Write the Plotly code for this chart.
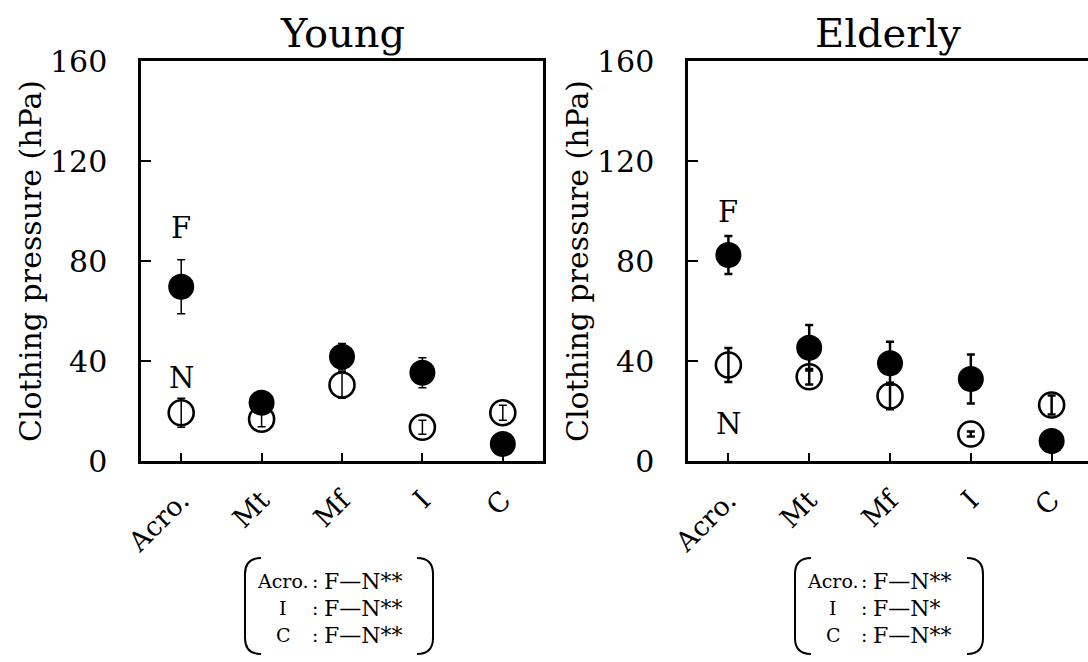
import plotly.graph_objects as go

categories = ["Acro.", "Mt", "Mf", "I", "C"]

# Young
young_F = [69.7, 23.3, 41.7, 35.3, 6.8]
young_F_err = [10.8, 2.0, 5.3, 6.0, 1.0]
young_N = [19.3, 16.7, 30.4, 13.5, 19.3]
young_N_err = [5.8, 3.0, 5.3, 2.8, 3.0]

# Elderly
elderly_F = [82.4, 45.3, 39.1, 32.8, 8.0]
elderly_F_err = [7.6, 9.1, 8.6, 9.8, 1.0]
elderly_N = [38.4, 33.7, 26.0, 10.8, 22.4]
elderly_N_err = [6.8, 3.1, 5.3, 1.0, 3.8]

panel_titles = ["Young", "Elderly"]
y_title = "Clothing pressure (hPa)"
y_ticks = [0, 40, 80, 120, 160]

sig_rows = ["Acro.", "I", "C"]
sig_young = ["F\u2014N**", "F\u2014N**", "F\u2014N**"]
sig_elderly = ["F\u2014N**", "F\u2014N*", "F\u2014N**"]

FONT = "DejaVu Serif"
W, H = 1088, 662
ML, MR, MT, MB = 141, 0, 61, 201
PW = W - ML - MR
PH = H - MT - MB


def px(x):
    return (x - ML) / PW


def py(y):
    return (H - MB - y) / PH


fig = go.Figure()

panels = [
    (young_F, young_F_err, young_N, young_N_err, "x", "y", 1.5, 4),
    (elderly_F, elderly_F_err, elderly_N, elderly_N_err, "x2", "y2", 2.5, 4),
]
for F, Fe, N, Ne, xa, ya, ebw, ebcap in panels:
    fig.add_trace(go.Scatter(
        x=categories, y=N, mode="markers", xaxis=xa, yaxis=ya,
        marker=dict(symbol="circle-open", size=25, color="black", line=dict(width=2.6, color="black")),
        error_y=dict(type="data", array=Ne, visible=True, color="black", thickness=ebw, width=ebcap),
        showlegend=False, cliponaxis=False))
    fig.add_trace(go.Scatter(
        x=categories, y=F, mode="markers", xaxis=xa, yaxis=ya,
        marker=dict(symbol="circle", size=26, color="black", line=dict(width=0)),
        error_y=dict(type="data", array=Fe, visible=True, color="black", thickness=ebw, width=ebcap),
        showlegend=False, cliponaxis=False))

axis_common = dict(
    showline=True, linecolor="black", linewidth=2.5, showgrid=False, zeroline=False,
    ticks="inside", tickcolor="black", tickwidth=2,
)
xt = dict(ticklen=8, tickangle=-45, tickfont=dict(size=27, family=FONT), ticklabelstandoff=10)
yt = dict(tickvals=y_ticks, ticklen=10, tickfont=dict(size=30, family=FONT), ticklabelstandoff=25,
          title=dict(text=y_title, font=dict(size=30, family=FONT), standoff=0))
fig.update_layout(
    width=W, height=H,
    margin=dict(l=ML, r=MR, t=MT, b=MB),
    paper_bgcolor="white", plot_bgcolor="white",
    font=dict(family=FONT, color="black"),
    xaxis=dict(axis_common, **xt, domain=[0, px(543)], range=[-0.5, 4.5], mirror=True, anchor="y"),
    yaxis=dict(axis_common, **yt, domain=[0, 1], range=[0, 160], mirror=True, anchor="x"),
    xaxis2=dict(axis_common, **xt, domain=[px(688), 1], range=[-0.5, 4.45], mirror=True, anchor="y2"),
    yaxis2=dict(axis_common, **yt, domain=[0, 1], range=[0, 160], mirror=False, anchor="x2"),
)

# Panel titles
for title, cx in zip(panel_titles, [px(342), px(888)]):
    fig.add_annotation(text=title, x=cx, y=py(33), xref="paper", yref="paper",
                       showarrow=False, font=dict(size=40, family=FONT),
                       xanchor="center", yanchor="middle")

# F / N labels
lab_font = dict(size=29, family=FONT)
fig.add_annotation(text="F", x="Acro.", y=93.2, xref="x", yref="y", showarrow=False, font=lab_font)
fig.add_annotation(text="N", x="Acro.", y=33.2, xref="x", yref="y", showarrow=False, font=lab_font)
fig.add_annotation(text="F", x="Acro.", y=99.5, xref="x2", yref="y2", showarrow=False, font=lab_font)
fig.add_annotation(text="N", x="Acro.", y=15.0, xref="x2", yref="y2", showarrow=False, font=lab_font)

# Significance boxes
row_y = [581, 608, 635]
lab_box_font = dict(size=19, family=FONT)
sig_box_font = dict(size=22, family=FONT)
boxes = [
    (sig_young, 283, 315, 322, 245, 433),
    (sig_elderly, 833, 864, 871, 795, 983),
]
for sig, cx_label, cx_colon, x_sig, pl, pr in boxes:
    for lab, s, yy in zip(sig_rows, sig, row_y):
        fig.add_annotation(text=lab, x=px(cx_label), y=py(yy), xref="paper", yref="paper",
                           showarrow=False, xanchor="center", yanchor="middle", font=lab_box_font)
        fig.add_annotation(text=":", x=px(cx_colon), y=py(yy), xref="paper", yref="paper",
                           showarrow=False, xanchor="center", yanchor="middle", font=lab_box_font)
        fig.add_annotation(text=s, x=px(x_sig), y=py(yy), xref="paper", yref="paper",
                           showarrow=False, xanchor="left", yanchor="middle", font=sig_box_font)
    top, bot, c = 558, 654, 16
    path_l = (f"M {px(pl + c)},{py(top)} Q {px(pl)},{py(top)} {px(pl)},{py(top + c)} "
              f"L {px(pl)},{py(bot - c)} Q {px(pl)},{py(bot)} {px(pl + c)},{py(bot)}")
    path_r = (f"M {px(pr - c)},{py(top)} Q {px(pr)},{py(top)} {px(pr)},{py(top + c)} "
              f"L {px(pr)},{py(bot - c)} Q {px(pr)},{py(bot)} {px(pr - c)},{py(bot)}")
    for p in (path_l, path_r):
        fig.add_shape(type="path", path=p, xref="paper", yref="paper",
                      line=dict(color="black", width=2))

fig.write_html("out.html")
